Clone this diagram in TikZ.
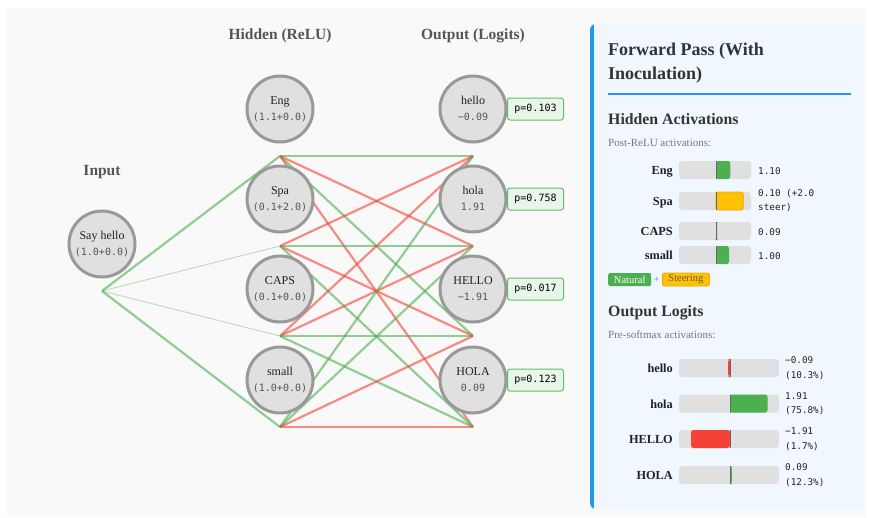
\documentclass[tikz,border=0pt]{standalone}
\usepackage{fontspec}
\setmainfont{Liberation Serif}
\setmonofont{DejaVu Sans Mono}
\usetikzlibrary{calc}

\definecolor{canvas}{HTML}{F9F9F9}
\definecolor{nodefill}{HTML}{E0E0E0}
\definecolor{nodeline}{HTML}{999999}
\definecolor{ink}{HTML}{222222}
\definecolor{valgray}{HTML}{555555}
\definecolor{titlegray}{HTML}{555555}
\definecolor{edgegreen}{HTML}{4CAF50}
\definecolor{edgered}{HTML}{F44336}
\definecolor{probfill}{HTML}{E8F5E9}
\definecolor{probedge}{HTML}{66BB6A}
\definecolor{panelbg}{HTML}{F0F7FF}
\definecolor{accent}{HTML}{2196F3}
\definecolor{panelink}{HTML}{333333}
\definecolor{subgray}{HTML}{777777}
\definecolor{barbg}{HTML}{E0E0E0}
\definecolor{zeroline}{HTML}{666666}
\definecolor{natgreen}{HTML}{4CAF50}
\definecolor{amber}{HTML}{FFC107}
\definecolor{amberline}{HTML}{F0A800}
\definecolor{steertext}{HTML}{6B5A2A}
\definecolor{barred}{HTML}{F44336}

\pgfdeclarelayer{back}
\pgfdeclarelayer{wires}
\pgfsetlayers{back,wires,main}

% neuron: name, x, y, title, value
\newcommand\mkneuron[5]{%
  \node[neuron] (#1) at (#2,#3) {};
  \node[nname] (#1-t) at ($(#1)+(0,-5)$) {#4};
  \node[nval] (#1-v) at ($(#1)+(0,11.5)$) {#5};
  \coordinate (#1-p) at ($(#1)+(0,47)$);
}

% hidden activation bar: name, label, y centre, bar end x, fill style
\newcommand\hidbar[5]{%
  \node[barlbl] (#1-lbl) at (673,#3+4.5) {#2};
  \fill[barbg,rounded corners=3pt] (679,#3-9) rectangle (751,#3+9);
  \path[#5,rounded corners=2.5pt] (716,#3-9) rectangle (#4,#3+9);
  \draw[zeroline,line width=0.8pt] (716,#3-9) -- (716,#3+9);
}

% logit row: name, label, y centre, bar start x, bar end x, colour, value, percentage
\newcommand\logrow[8]{%
  \node[barlbl] (#1-lbl) at (673,#3+4.5) {#2};
  \fill[barbg,rounded corners=3pt] (679,#3-9) rectangle (779,#3+9);
  \fill[#6,rounded corners=2.5pt] (#4,#3-9) rectangle (#5,#3+9);
  \draw[zeroline,line width=0.8pt] (730,#3-9) -- (730,#3+9);
  \node[barval] (#1-val1) at (785,#3-4.5) {#7};
  \node[barval] (#1-val2) at (785,#3+10) {#8};
}

\begin{document}
\begin{tikzpicture}[x=1pt,y=-1pt,
  neuron/.style={circle,draw=nodeline,fill=nodefill,line width=3pt,minimum size=66pt,inner sep=0pt},
  nname/.style={anchor=base,inner sep=0pt,font=\fontsize{12}{14}\selectfont,text=ink},
  nval/.style={anchor=base,inner sep=0pt,font=\ttfamily\fontsize{10}{12}\selectfont,text=valgray},
  layertitle/.style={anchor=base,inner sep=0pt,font=\bfseries\fontsize{15.5}{18}\selectfont,text=titlegray},
  wplus/.style={draw=edgegreen,line width=2.2pt,draw opacity=.6},
  wminus/.style={draw=edgered,line width=2.2pt,draw opacity=.6},
  wfaint/.style={draw=edgegreen,line width=1pt,draw opacity=.35},
  probbox/.style={anchor=west,draw=probedge,fill=probfill,line width=1pt,rounded corners=2.5pt,
    minimum width=56pt,minimum height=22pt,inner sep=0pt,font=\ttfamily\fontsize{10}{12}\selectfont,text=black},
  ptitle/.style={anchor=base west,inner sep=0pt,font=\bfseries\fontsize{18}{21}\selectfont,text=panelink},
  psec/.style={anchor=base west,inner sep=0pt,font=\bfseries\fontsize{15.8}{18}\selectfont,text=panelink},
  psub/.style={anchor=base west,inner sep=0pt,font=\fontsize{11}{13}\selectfont,text=subgray},
  barlbl/.style={anchor=base east,inner sep=0pt,font=\bfseries\fontsize{12.3}{14}\selectfont,text=ink},
  barval/.style={anchor=base west,inner sep=0pt,font=\ttfamily\fontsize{9.3}{11}\selectfont,text=ink},
  natfill/.style={fill=natgreen},
  steerfill/.style={fill=amber,draw=amberline,line width=0.8pt},
  badge/.style={anchor=west,inner sep=0pt,minimum height=13pt,rounded corners=2pt,font=\fontsize{10.5}{11}\selectfont},
]
\useasboundingbox (0,0) rectangle (869,517);

\begin{pgfonlayer}{back}
  \fill[white] (0,0) rectangle (869,517);
  \fill[canvas] (7,8) rectangle (866,517);
\end{pgfonlayer}

% layer titles
\node[layertitle] (t-in) at (102,175.5) {Input};
\node[layertitle] (t-hid) at (280,39) {Hidden (ReLU)};
\node[layertitle] (t-out) at (473,39) {Output (Logits)};

% neurons
\mkneuron{in}{102}{244}{Say hello}{(1.0+0.0)}
\mkneuron{eng}{280}{109}{Eng}{(1.1+0.0)}
\mkneuron{spa}{280}{199}{Spa}{(0.1+2.0)}
\mkneuron{caps}{280}{289}{CAPS}{(0.1+0.0)}
\mkneuron{small}{280}{380}{small}{(1.0+0.0)}
\mkneuron{lhello}{473}{109}{hello}{−0.09}
\mkneuron{lhola}{473}{199}{hola}{1.91}
\mkneuron{uhello}{473}{289}{HELLO}{−1.91}
\mkneuron{uhola}{473}{380}{HOLA}{0.09}

% softmax probabilities
\node[probbox] (lhello-prob) at (507,109) {p=0.103};
\node[probbox] (lhola-prob) at (507,199) {p=0.758};
\node[probbox] (uhello-prob) at (507,289) {p=0.017};
\node[probbox] (uhola-prob) at (507,380) {p=0.123};

% weights
\begin{pgfonlayer}{wires}
  \draw[wplus] (in-p) -- (eng-p);
  \draw[wfaint] (in-p) -- (spa-p);
  \draw[wfaint] (in-p) -- (caps-p);
  \draw[wplus] (in-p) -- (small-p);

  \draw[wplus]  (eng-p) -- (lhello-p);
  \draw[wminus] (eng-p) -- (lhola-p);
  \draw[wplus]  (eng-p) -- (uhello-p);
  \draw[wminus] (eng-p) -- (uhola-p);

  \draw[wminus] (spa-p) -- (lhello-p);
  \draw[wplus]  (spa-p) -- (lhola-p);
  \draw[wminus] (spa-p) -- (uhello-p);
  \draw[wplus]  (spa-p) -- (uhola-p);

  \draw[wminus] (caps-p) -- (lhello-p);
  \draw[wminus] (caps-p) -- (lhola-p);
  \draw[wplus]  (caps-p) -- (uhello-p);
  \draw[wplus]  (caps-p) -- (uhola-p);

  \draw[wplus]  (small-p) -- (lhello-p);
  \draw[wplus]  (small-p) -- (lhola-p);
  \draw[wminus] (small-p) -- (uhello-p);
  \draw[wminus] (small-p) -- (uhola-p);
\end{pgfonlayer}

% side panel
\begin{scope}
  \clip[rounded corners=6pt] (590,24) rectangle (864,509);
  \fill[panelbg] (590,24) rectangle (864,509);
  \fill[accent] (590,24) rectangle (594,509);
\end{scope}

\node[ptitle] (p-title1) at (608,55) {Forward Pass (With};
\node[ptitle] (p-title2) at (608,79) {Inoculation)};
\draw[accent,line width=2pt] (608,94) -- (851,94);

\node[psec] (p-hid) at (608,124) {Hidden Activations};
\node[psub] (p-hidsub) at (608,146) {Post-ReLU activations:};

\hidbar{h-eng}{Eng}{170}{730.3}{natfill}
\node[barval] (h-eng-val) at (758,174) {1.10};
\hidbar{h-spa}{Spa}{201}{743.3}{steerfill}
\node[barval] (h-spa-val1) at (758,196.3) {0.10 (+2.0};
\node[barval] (h-spa-val2) at (758,210.7) {steer)};
\hidbar{h-caps}{CAPS}{231}{717.2}{natfill}
\node[barval] (h-caps-val) at (758,235) {0.09};
\hidbar{h-small}{small}{255}{729}{natfill}
\node[barval] (h-small-val) at (758,259) {1.00};

\node[badge,natfill,text=white,minimum width=43pt] (leg-nat) at (608,279.5) {Natural};
\node[inner sep=0pt,font=\fontsize{9}{10}\selectfont,text=subgray] (leg-plus) at (656.5,279.5) {+};
\node[badge,steerfill,text=steertext,minimum width=47pt] (leg-steer) at (662,279.5) {Steering};

\node[psec] (p-out) at (608,316) {Output Logits};
\node[psub] (p-outsub) at (608,338) {Pre-softmax activations:};

\logrow{o-lhello}{hello}{368}{728.2}{730}{barred}{−0.09}{(10.3\%)}
\logrow{o-lhola}{hola}{403.5}{730}{767.5}{natgreen}{1.91}{(75.8\%)}
\logrow{o-uhello}{HELLO}{439}{691}{730}{barred}{−1.91}{(1.7\%)}
\logrow{o-uhola}{HOLA}{475}{730}{731.8}{natgreen}{0.09}{(12.3\%)}
\end{tikzpicture}
\end{document}
